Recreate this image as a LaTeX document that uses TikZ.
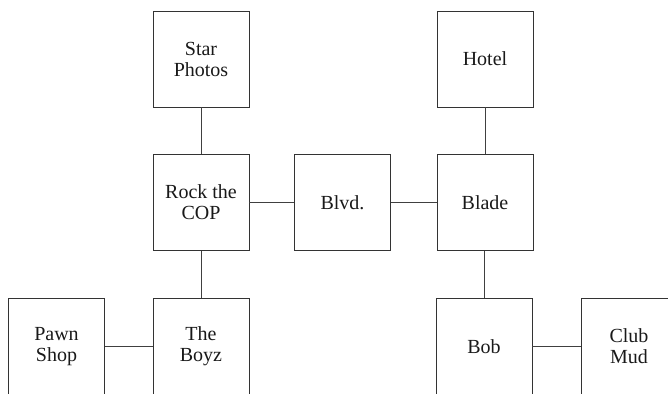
\documentclass[tikz,border=0pt]{standalone}
\usepackage{fontspec}
\setmainfont{Liberation Serif}
\begin{document}
\begin{tikzpicture}[x=1pt,y=1pt,
  place/.style={draw=black!80, line width=0.75pt, rectangle, minimum width=96pt, minimum height=96pt, inner sep=0pt, align=center, font=\fontsize{20}{21}\selectfont, text=black!90},
  link/.style={draw=black!75, line width=0.7pt}]
\useasboundingbox (0,0) rectangle (668,393);
\clip (0,0) rectangle (668,393);
\node[place] (star)  at (201,334) {Star\\Photos};
\node[place] (hotel) at (485,334) {Hotel};
\node[place] (rock)  at (201,190.5) {Rock the\\COP};
\node[place] (blvd)  at (342.5,190.5) {Blvd.};
\node[place] (blade) at (485,190.5) {Blade};
\node[place] (pawn)  at (56.5,46.5) {Pawn\\Shop};
\node[place] (boyz)  at (201,46.5) {The\\Boyz};
\node[place] (bob)   at (484,46.5) {Bob};
\node[place] (club)  at (629,46.5) {Club\\Mud};
\draw[link] (star) -- (rock);
\draw[link] (rock) -- (blvd);
\draw[link] (blvd) -- (blade);
\draw[link] (hotel) -- (blade);
\draw[link] (rock) -- (boyz);
\draw[link] (pawn) -- (boyz);
\draw[link] (blade.south -| bob) -- (bob);
\draw[link] (bob) -- (club);
\end{tikzpicture}
\end{document}
